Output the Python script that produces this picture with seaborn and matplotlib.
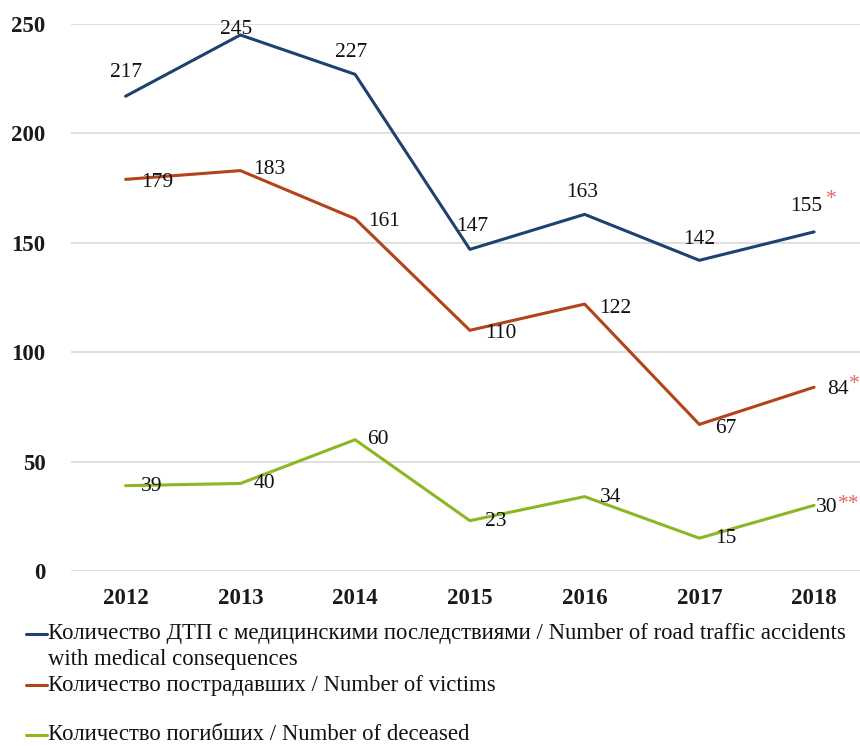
import matplotlib
matplotlib.use("Agg")
import matplotlib.pyplot as plt
from matplotlib.lines import Line2D
import seaborn as sns
import pandas as pd

years = ["2012", "2013", "2014", "2015", "2016", "2017", "2018"]
accidents = [217, 245, 227, 147, 163, 142, 155]
victims = [179, 183, 161, 110, 122, 67, 84]
deceased = [39, 40, 60, 23, 34, 15, 30]
notes = ["*", "*", "**"]

series_names = [
    "Количество ДТП с медицинскими последствиями / Number of road traffic accidents\nwith medical consequences",
    "Количество пострадавших / Number of victims",
    "Количество погибших / Number of deceased",
]
colors = ["#1d426f", "#b3431b", "#8db622"]

frames = []
for name, vals in zip(series_names, [accidents, victims, deceased]):
    frames.append(pd.DataFrame({"year": range(len(years)), "value": vals, "series": name}))
df = pd.concat(frames, ignore_index=True)

sns.set_theme(style="white")
plt.rcParams["font.family"] = ["Liberation Serif", "DejaVu Serif"]

FS = 15.5
LEG_FS = 16.4

fig = plt.figure(figsize=(8.6, 7.46), dpi=100)
ax = fig.add_axes([0.082, 0.2346, 0.918, 0.7332])

sns.lineplot(data=df, x="year", y="value", hue="series", palette=colors,
             linewidth=2.2, ax=ax, legend=False)

ax.set_xlim(-0.48, 6.4)
ax.set_ylim(0, 250)
ax.set_yticks([0, 50, 100, 150, 200, 250])
ax.set_xticks(range(len(years)))
ax.set_xticklabels(years)
ax.set_xlabel("")
ax.set_ylabel("")
for s in ax.spines.values():
    s.set_visible(False)
ax.grid(axis="y", color="#d9d9d9", linewidth=1.2)
ax.set_axisbelow(True)
ax.tick_params(axis="both", length=0, labelsize=16.5, colors="#1a1a1a")
ax.tick_params(axis="y", pad=18)
ax.tick_params(axis="x", pad=12)
for lbl in ax.get_xticklabels() + ax.get_yticklabels():
    lbl.set_fontweight("bold")

# value label offsets in pixels (dx, dy) for each series
offsets = {
    0: [(0, 24), (-4, 5), (-4, 22), (2, 23), (-2, 22), (0, 21), (-8, 25)],
    1: [(32, -3), (29, 1), (29, -3), (31, -3), (31, -4), (26, -4), (24, -2)],
    2: [(26, -1), (24, 0), (23, 0), (26, -1), (26, -1), (27, 0), (13, -2)],
}
# footnote mark offsets after the last value
note_offsets = [(17, 32), (40, 3), (35, 1)]

for i, vals in enumerate([accidents, victims, deceased]):
    for j, v in enumerate(vals):
        dx, dy = offsets[i][j]
        ax.annotate(str(v), (j, v), xytext=(dx, dy), textcoords="offset pixels",
                    ha="center", va="center", fontsize=FS, color="#111111")
    dx, dy = note_offsets[i]
    ax.annotate(notes[i], (6, vals[-1]), xytext=(dx, dy), textcoords="offset pixels",
                ha="center", va="center", fontsize=FS, color="#e06666")

# legend below the plot
legend_y = [1 - 634 / 746, 1 - 685 / 746, 1 - 735 / 746]
for name, color, y in zip(series_names, colors, legend_y):
    fig.add_artist(Line2D([0.03, 0.055], [y, y], color=color, linewidth=2.2,
                          transform=fig.transFigure))
    lines = name.split("\n")
    fig.text(0.056, y, lines[0], ha="left", va="center", fontsize=LEG_FS, color="#111111")
    if len(lines) > 1:
        fig.text(0.056, y - 25 / 746, lines[1], ha="left", va="center",
                 fontsize=LEG_FS, color="#111111")

fig.savefig("out.png", dpi=100)
